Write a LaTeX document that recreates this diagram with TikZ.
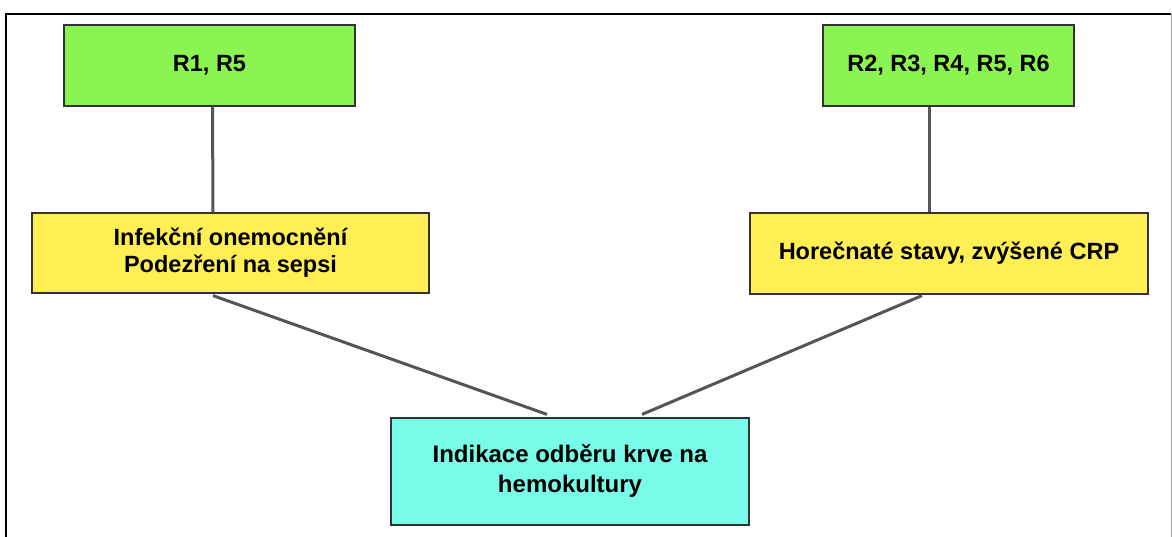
\documentclass[tikz,border=0pt]{standalone}
\usepackage{fontspec}
\setmainfont{Liberation Sans}
\definecolor{boxgreen}{HTML}{8AF552}
\definecolor{boxyellow}{HTML}{FFEF55}
\definecolor{boxcyan}{HTML}{78FBE8}
\definecolor{linkgray}{HTML}{555555}
\definecolor{edgegray}{HTML}{333333}
\begin{document}
\begin{tikzpicture}[x=1pt,y=-1pt,
  box/.style={draw=edgegray,line width=1.2pt,rectangle,align=center,inner sep=0pt,
    font=\fontsize{23.5}{27}\selectfont\bfseries},
  link/.style={draw=linkgray,line width=3pt}]
\useasboundingbox (0,0) rectangle (1172,536);
\draw[black,line width=1.5pt] (6,540) -- (6,14) -- (1171,14);
\draw[gray!70,line width=1pt] (1171,14) -- (1171,540);
\node[box,fill=boxgreen,minimum width=291pt,minimum height=81pt] (g1) at (209.5,65.5) {R1, R5};
\node[box,fill=boxgreen,minimum width=251pt,minimum height=81pt] (g2) at (948.5,65.5) {R2, R3, R4, R5, R6};
\node[box,fill=boxyellow,minimum width=397pt,minimum height=80pt] (y1) at (230.5,253) {Infekční onemocnění\\Podezření na sepsi};
\node[box,fill=boxyellow,minimum width=398pt,minimum height=81pt] (y2) at (949,253.5) {Horečnaté stavy, zvýšené CRP};
\node[box,fill=boxcyan,minimum width=358pt,minimum height=107pt,font=\fontsize{24}{30}\selectfont\bfseries] (c) at (570,471.5) {Indikace odběru krve na\\hemokultury};
\draw[link] ([xshift=3pt]g1.south) -- ([xshift=-17.5pt]y1.north);
\draw[link] ([xshift=-19.5pt]g2.south) -- ([xshift=-20pt]y2.north);
\draw[link] ([xshift=-17.5pt,yshift=-2pt]y1.south) -- ([xshift=-23pt,yshift=3pt]c.north);
\draw[link] ([xshift=-27pt,yshift=-1pt]y2.south) -- ([xshift=72pt,yshift=3pt]c.north);
\end{tikzpicture}
\end{document}
